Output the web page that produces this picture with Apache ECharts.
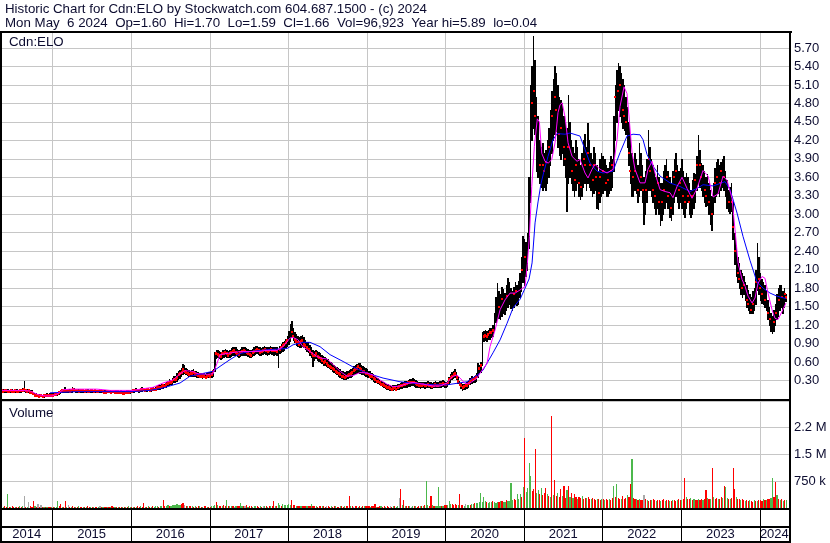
<!DOCTYPE html>
<html>
<head>
<meta charset="utf-8">
<title>Cdn:ELO Historic Chart</title>
<script src="https://cdn.jsdelivr.net/npm/echarts@6/dist/echarts.min.js"></script>
<style>
html,body{margin:0;padding:0;background:#ffffff;overflow:hidden;}
#chart{width:830px;height:543px;}
</style>
</head>
<body>
<div id="chart"></div>
<script>
// ---------- texts ----------
const titleLine1 = 'Historic Chart for Cdn:ELO by Stockwatch.com 604.687.1500 - (c) 2024';
const titleLine2 = 'Mon May  6 2024  Op=1.60  Hi=1.70  Lo=1.59  Cl=1.66  Vol=96,923  Year hi=5.89  lo=0.04';
const priceLabel = 'Cdn:ELO';
const volumeLabel = 'Volume';

// ---------- axes ----------
const yearLabels = ['2014','2015','2016','2017','2018','2019','2020','2021','2022','2023','2024'];
const yearStarts = [2015,2016,2017,2018,2019,2020,2021,2022,2023,2024];
const timeMin = 2014.347, timeMax = 2024.373;
const dataFirst = 2014.347, dataLast = 2024.346;
const priceMax = 5.96, priceStep = 0.30;
const volMax = 2970, volStep = 750; // thousands of shares

// ---------- weekly price data [low, high, close] ----------
const px2014 = [[.12,.17,.14],[.12,.16,.13],[.11,.16,.14],[.12,.17,.15],[.12,.16,.13],[.11,.15,.13],[.12,.16,.14],[.12,.17,.13],[.11,.15,.13],[.12,.16,.14],
[.12,.16,.13],[.11,.15,.13],[.12,.16,.14],[.12,.17,.15],[.13,.18,.15],[.13,.30,.16],[.12,.17,.14],[.12,.16,.13],[.12,.16,.14],[.11,.15,.12],
[.09,.14,.11],[.08,.12,.09],[.06,.10,.07],[.05,.09,.06],[.05,.08,.06],[.04,.08,.05],[.05,.08,.06],[.04,.07,.05],[.04,.08,.06],[.05,.08,.06],
[.05,.09,.06],[.05,.08,.06],[.05,.09,.07],[.06,.09,.07]];
const px2015 = [[.05,.09,.07],[.06,.10,.08],[.06,.10,.08],[.07,.11,.09],[.08,.13,.11],[.10,.15,.13],[.11,.16,.14],[.12,.17,.15],[.12,.19,.15],[.12,.17,.14],
[.12,.16,.14],[.11,.16,.13],[.12,.17,.15],[.12,.19,.16],[.13,.18,.15],[.12,.17,.14],[.12,.16,.14],[.11,.16,.13],[.12,.16,.14],[.12,.17,.15],
[.12,.16,.14],[.11,.15,.13],[.12,.16,.14],[.12,.16,.13],[.11,.15,.13],[.12,.16,.14],[.12,.16,.14],[.11,.15,.13],[.12,.16,.14],[.12,.15,.13],
[.11,.15,.13],[.12,.16,.14],[.12,.16,.14],[.11,.15,.13],[.11,.15,.12],[.10,.14,.12],[.11,.15,.13],[.11,.15,.13],[.10,.14,.12],[.11,.15,.13],
[.11,.15,.13],[.10,.14,.12],[.10,.14,.11],[.09,.14,.11],[.09,.13,.11],[.10,.14,.12],[.09,.13,.10],[.08,.13,.10],[.09,.13,.11],[.09,.14,.12],
[.10,.14,.12],[.10,.15,.13]];
const px2016 = [[.11,.15,.13],[.12,.16,.14],[.12,.17,.15],[.13,.18,.15],[.13,.17,.15],[.12,.17,.14],[.13,.18,.16],[.13,.19,.16],[.14,.18,.16],[.13,.17,.15],
[.13,.18,.16],[.14,.18,.16],[.13,.17,.15],[.13,.18,.16],[.14,.19,.17],[.14,.18,.16],[.15,.20,.17],[.16,.22,.19],[.17,.23,.20],[.17,.22,.19],
[.18,.24,.21],[.18,.25,.22],[.19,.24,.21],[.20,.27,.24],[.22,.30,.26],[.23,.32,.28],[.24,.31,.27],[.25,.34,.30],[.27,.37,.32],[.28,.38,.33],
[.30,.42,.36],[.32,.45,.40],[.34,.47,.42],[.38,.50,.44],[.40,.57,.48],[.42,.56,.46],[.40,.50,.44],[.39,.48,.42],[.38,.47,.41],[.37,.46,.42],
[.38,.47,.43],[.38,.48,.44],[.37,.46,.41],[.36,.45,.40],[.36,.44,.39],[.35,.43,.38],[.35,.42,.37],[.34,.41,.37],[.35,.42,.38],[.34,.41,.36],
[.35,.43,.38],[.36,.44,.39]];
const px2017 = [[.35,.44,.38],[.36,.45,.40],[.37,.48,.45],[.45,.77,.70],[.66,.80,.74],[.68,.79,.73],[.66,.78,.71],[.65,.76,.70],[.67,.79,.74],[.68,.80,.75],
[.70,.82,.76],[.69,.80,.74],[.68,.78,.72],[.69,.80,.75],[.70,.83,.77],[.71,.84,.78],[.72,.85,.79],[.72,.84,.77],[.70,.81,.74],[.69,.80,.73],
[.70,.82,.76],[.71,.84,.78],[.72,.85,.79],[.72,.84,.78],[.71,.83,.76],[.70,.82,.75],[.69,.80,.73],[.68,.79,.72],[.70,.82,.76],[.72,.84,.78],
[.73,.86,.80],[.74,.86,.81],[.73,.85,.79],[.72,.84,.77],[.72,.83,.78],[.73,.85,.80],[.74,.86,.81],[.73,.85,.79],[.72,.84,.78],[.73,.85,.80],
[.74,.86,.81],[.73,.85,.80],[.72,.84,.79],[.73,.85,.80],[.72,.84,.78],[.52,.82,.76],[.74,.86,.82],[.76,.90,.85],[.78,.92,.88],[.80,.95,.90],
[.84,.98,.93],[.86,1.02,.96]];
const px2018 = [[.90,1.10,1.02],[.95,1.22,1.10],[1.00,1.27,1.08],[.96,1.15,1.02],[.92,1.08,.98],[.88,1.05,.95],[.86,1.02,.92],[.85,1.00,.90],[.84,1.02,.94],[.86,1.04,.96],
[.84,1.00,.90],[.82,.96,.88],[.78,.93,.84],[.76,.92,.82],[.72,.88,.78],[.68,.84,.74],[.54,.80,.70],[.64,.78,.72],[.66,.80,.74],[.64,.78,.70],
[.62,.76,.68],[.60,.74,.66],[.58,.72,.64],[.55,.70,.60],[.56,.68,.62],[.54,.66,.58],[.52,.65,.56],[.50,.62,.54],[.48,.60,.52],[.46,.58,.50],
[.44,.56,.48],[.42,.54,.46],[.40,.52,.44],[.38,.50,.42],[.36,.48,.40],[.34,.46,.38],[.33,.45,.37],[.32,.44,.36],[.33,.45,.38],[.34,.46,.39],
[.35,.47,.40],[.36,.48,.42],[.38,.50,.44],[.40,.53,.47],[.42,.55,.49],[.43,.57,.51],[.44,.59,.53],[.43,.58,.50],[.41,.55,.48],[.40,.53,.46],
[.39,.52,.45],[.38,.50,.43]];
const px2019 = [[.36,.48,.42],[.35,.46,.40],[.34,.45,.38],[.32,.43,.37],[.30,.40,.34],[.28,.38,.32],[.27,.36,.30],[.26,.34,.29],[.24,.32,.27],[.22,.30,.25],
[.21,.29,.24],[.20,.28,.22],[.18,.26,.21],[.17,.25,.20],[.16,.24,.19],[.15,.22,.18],[.15,.21,.17],[.15,.22,.18],[.16,.23,.19],[.15,.22,.17],
[.16,.24,.20],[.17,.25,.21],[.18,.26,.22],[.18,.27,.23],[.19,.28,.24],[.20,.29,.25],[.20,.30,.26],[.21,.31,.27],[.21,.32,.27],[.22,.33,.28],
[.22,.34,.28],[.21,.33,.27],[.20,.31,.26],[.19,.29,.24],[.19,.28,.23],[.18,.27,.22],[.19,.28,.23],[.19,.28,.24],[.18,.27,.22],[.19,.28,.23],
[.20,.29,.25],[.19,.28,.23],[.18,.27,.22],[.18,.26,.21],[.19,.28,.23],[.20,.29,.24],[.19,.28,.23],[.19,.27,.23],[.20,.29,.24],[.20,.30,.25],
[.21,.31,.26],[.20,.30,.25]];
const px2020 = [[.20,.28,.24],[.21,.30,.26],[.24,.36,.32],[.28,.40,.36],[.32,.44,.38],[.34,.46,.40],[.36,.48,.42],[.32,.44,.36],[.26,.36,.30],[.22,.30,.25],
[.18,.26,.22],[.15,.24,.20],[.16,.25,.21],[.17,.26,.22],[.18,.27,.23],[.20,.30,.26],[.24,.34,.30],[.26,.37,.32],[.27,.36,.33],[.28,.38,.34],
[.30,.42,.38],[.36,.59,.48],[.42,.56,.50],[.44,.60,.55],[.55,1.08,1.00],[.94,1.10,1.02],[.96,1.12,1.04],[.95,1.10,1.02],[.97,1.12,1.05],[.98,1.15,1.08],
[1.00,1.15,1.08],[1.02,1.20,1.12],[1.10,1.40,1.30],[1.25,1.65,1.45],[1.30,1.88,1.55],[1.32,1.75,1.50],[1.30,1.70,1.55],[1.35,1.82,1.62],[1.40,1.78,1.55],[1.38,1.72,1.52],
[1.45,1.85,1.68],[1.50,1.97,1.75],[1.55,1.90,1.72],[1.48,1.80,1.62],[1.45,1.75,1.60],[1.50,1.82,1.70],[1.55,1.90,1.75],[1.52,1.85,1.68],[1.55,1.92,1.80],[1.65,2.05,1.92],
[1.75,2.30,2.10],[1.90,2.64,2.40]];
const px2021 = [[1.85,2.60,2.30],[2.00,2.55,2.20],[2.10,2.70,2.50],[2.45,3.60,3.30],[3.20,5.10,4.60],[4.20,5.40,4.80],[4.40,5.89,5.00],[4.30,5.50,4.60],[3.70,4.90,4.00],[3.60,4.60,3.90],
[3.50,4.20,3.80],[3.45,4.10,3.75],[3.40,4.15,3.80],[3.45,4.00,3.70],[3.40,4.05,3.85],[3.50,4.20,3.90],[3.60,4.40,4.10],[3.80,4.70,4.40],[4.00,5.00,4.60],[4.20,5.20,4.80],
[4.30,5.40,4.90],[4.35,5.30,4.70],[4.10,5.10,4.50],[3.96,4.90,4.30],[3.90,4.85,4.40],[4.00,4.80,4.30],[3.80,4.60,4.10],[3.60,4.50,3.90],[3.05,4.40,3.80],[3.50,4.93,4.10],
[3.60,4.50,3.90],[3.50,4.20,3.70],[3.40,4.10,3.60],[3.30,4.00,3.55],[3.40,4.20,3.80],[3.50,4.10,3.70],[3.30,3.90,3.50],[3.24,3.80,3.45],[3.30,4.00,3.70],[3.45,4.20,3.90],
[3.50,4.30,3.80],[3.40,4.10,3.70],[3.50,4.48,4.00],[3.45,4.20,3.80],[3.40,4.00,3.60],[3.30,3.90,3.55],[3.35,4.10,3.80],[3.40,4.00,3.60],[3.10,3.80,3.40],[3.08,3.70,3.35],
[3.20,3.90,3.60],[3.30,4.00,3.70]];
const px2022 = [[3.35,3.95,3.70],[3.40,3.90,3.60],[3.30,3.80,3.50],[3.29,3.75,3.55],[3.35,3.85,3.65],[3.40,3.94,3.70],[3.45,3.90,3.80],[3.70,4.60,4.40],[4.20,5.10,4.90],[4.50,5.35,5.20],
[4.70,5.46,5.00],[4.60,5.40,5.10],[4.50,5.30,4.90],[4.40,5.20,4.70],[4.37,5.10,4.60],[4.30,4.90,4.50],[4.10,4.75,4.30],[3.80,4.50,4.00],[3.50,4.30,3.70],[3.29,4.00,3.50],
[3.30,3.90,3.60],[3.40,4.00,3.70],[3.35,3.90,3.50],[3.20,3.80,3.40],[3.30,4.16,3.80],[3.40,4.00,3.60],[3.20,3.80,3.40],[2.84,3.60,3.10],[3.00,3.70,3.40],[3.20,3.90,3.60],
[3.40,4.37,3.90],[3.40,4.10,3.70],[3.30,3.90,3.50],[3.20,3.80,3.40],[3.10,3.70,3.30],[3.00,3.60,3.20],[3.10,3.80,3.50],[3.00,3.60,3.20],[2.82,3.50,3.10],[2.90,3.50,3.20],
[3.00,3.70,3.40],[3.10,3.80,3.50],[3.20,3.90,3.60],[3.10,3.70,3.30],[2.95,3.60,3.20],[2.90,3.50,3.10],[3.00,3.70,3.40],[3.20,3.90,3.60],[3.30,4.00,3.70],[3.20,3.80,3.50],
[3.10,3.70,3.40],[3.20,3.75,3.50]];
const px2023 = [[3.10,3.90,3.50],[3.00,3.70,3.30],[2.96,3.60,3.20],[3.10,3.67,3.40],[3.20,3.60,3.30],[3.00,3.50,3.20],[2.96,3.40,3.10],[3.00,3.55,3.30],[3.10,3.67,3.40],[3.20,3.65,3.55],
[3.40,3.95,3.80],[3.50,4.29,3.90],[3.45,4.05,3.80],[3.40,3.83,3.60],[3.30,3.80,3.50],[3.20,3.70,3.40],[3.13,3.60,3.30],[3.15,3.65,3.35],[3.00,3.50,3.20],[2.85,3.40,3.05],
[2.75,3.30,3.00],[3.00,3.50,3.30],[3.20,3.75,3.50],[3.30,3.85,3.60],[3.35,3.90,3.70],[3.30,3.80,3.50],[3.40,3.85,3.70],[3.45,3.90,3.75],[3.40,3.94,3.60],[3.30,3.70,3.45],
[3.10,3.56,3.30],[3.05,3.40,3.20],[3.02,3.45,3.25],[3.05,3.50,3.20],[2.60,3.20,2.80],[2.20,2.69,2.40],[1.99,2.50,2.20],[1.90,2.30,2.05],[1.80,2.21,1.95],[1.70,2.10,1.85],
[1.66,2.05,1.80],[1.70,2.00,1.85],[1.60,1.90,1.70],[1.50,1.85,1.60],[1.45,1.77,1.55],[1.40,1.70,1.50],[1.39,1.65,1.45],[1.40,1.75,1.55],[1.45,1.80,1.60],[1.55,2.10,1.90],
[1.77,2.53,2.10],[1.70,2.30,1.95]];
const px2024 = [[1.60,2.04,1.80],[1.56,1.95,1.70],[1.55,1.90,1.65],[1.50,1.85,1.60],[1.45,1.75,1.55],[1.30,1.60,1.40],[1.20,1.50,1.30],[1.10,1.40,1.20],[1.07,1.35,1.15],[1.10,1.45,1.25],
[1.20,1.55,1.40],[1.30,1.70,1.55],[1.34,1.80,1.60],[1.45,1.85,1.70],[1.50,1.85,1.65],[1.40,1.75,1.55],[1.50,1.80,1.70],[1.59,1.70,1.66]];

// ---------- weekly volume (thousands) ----------
const vol2014 = [40,30,50,25,375,35,30,45,20,40,30,25,50,35,60,345,40,30,180,45,35,200,60,40,100,30,90,25,30,20,35,25,30,40];
const vol2015 = [30,40,25,200,50,120,35,30,200,40,90,30,25,45,35,20,30,50,25,40,30,20,35,45,25,30,40,20,35,30,25,45,30,20,40,25,30,35,20,45,30,25,40,30,20,35,30,40,25,30,45,35];
const vol2016 = [30,40,35,25,45,30,50,40,150,35,30,45,40,25,50,35,45,60,40,55,50,210,65,45,70,60,55,80,90,75,100,85,95,110,130,70,60,50,65,45,55,40,50,35,45,55,40,30,50,45,35,40];
const vol2017 = [40,50,60,90,180,80,60,50,45,70,55,230,60,50,45,55,40,65,50,45,150,60,45,50,80,40,55,45,35,50,60,45,40,55,35,50,45,60,40,55,50,45,200,60,55,140,70,60,110,75,80,90];
const vol2018 = [120,90,210,80,70,60,55,65,50,45,60,55,50,45,60,110,55,50,45,40,55,50,45,60,40,50,45,35,50,40,45,55,40,35,50,45,40,55,45,60,320,50,45,40,55,45,35,50,40,45,55,60];
const vol2019 = [50,45,40,55,45,110,40,35,50,45,40,55,35,45,40,50,35,45,55,40,60,290,540,70,230,60,45,55,50,40,60,45,55,40,50,65,45,55,70,760,80,60,320,70,55,60,50,570,65,55,60,70];
const vol2020 = [80,90,200,110,100,80,120,90,70,400,90,80,60,100,70,80,90,110,100,130,150,140,170,420,180,300,200,160,150,180,170,190,160,150,180,170,190,200,180,170,230,190,200,690,220,250,230,400,260,380,300,585];
const vol2021 = [1930,450,560,1240,885,480,530,1640,420,500,380,560,350,430,560,380,320,300,2560,350,780,330,420,300,530,320,600,290,500,600,310,420,280,400,300,260,310,280,330,250,290,270,300,260,240,280,250,220,260,240,230,250];
const vol2022 = [240,220,260,230,250,210,280,600,300,660,280,260,250,320,240,270,350,300,680,1350,280,260,240,220,250,230,210,350,240,220,200,230,210,250,220,200,230,210,190,220,240,200,210,230,200,190,220,210,200,230,250,220];
const vol2023 = [220,250,835,300,260,240,280,220,250,230,210,240,220,260,230,250,490,280,260,240,1100,300,260,280,240,260,300,280,600,570,290,260,240,270,1100,530,300,260,240,220,250,230,200,220,190,210,200,180,220,200,190,210];
const vol2024 = [220,200,250,230,210,240,260,280,835,300,720,350,240,220,260,200,230,210];

// ---------- weekly direction: r = down, g = up, n = unchanged ----------
const dir2014 = 'rgrrgrgrrgrrgrgnrgnrrrgrnrnrgrgrrg';
const dir2015 = 'rgggrrgrrg' + 'nrgrrgrgrr' + 'grgrrgrgrr' + 'gnrgrrgrgr' + 'rgrgrrgrgr' + 'gg';
const dir2016 = 'rgrgrrgrrg' + 'rgrgrgggrg' + 'grrggrgggg' + 'gggrrnrgrr' + 'grgrrgrgrr' + 'gr';
const dir2017 = 'rgggrgrrgr' + 'rgrggrngrr' + 'ggrnrgrrgg' + 'grrgrngrgr' + 'grrgrggrgg' + 'gg';
const dir2018 = 'ggrrrgrrgr' + 'rrgrrgrrgr' + 'rrgrrnrrgr' + 'rgrrgrrgrr' + 'rgrnrrgrgr' + 'gr';
const dir2019 = 'rrgrrrgrrg' + 'rrgrrnrgrg' + 'gnrgrgrrgn' + 'grgrrgrgrg' + 'grrgrggggr' + 'gr';
const dir2020 = 'rgggrrrrgr' + 'rrgnggrggr' + 'gggggggrgg' + 'grgggrgrgg' + 'rggggrrggg' + 'rg';
const dir2021 = 'rggggrrrgg' + 'rgrrrgrgrg' + 'rrgrrgrrgr' + 'grgrrgrrgr' + 'rgrrgrrrgr' + 'rg';
const dir2022 = 'rgrrgrrgrg' + 'rrgrrrgrrg' + 'rrgrgrrnrg' + 'rrgrrgrrgr' + 'rgrrgrgrrg' + 'rr';
const dir2023 = 'grrgrrgrgr' + 'rgrrgrrgrg' + 'rgrrgrrgrg' + 'grgrrrgrrg' + 'rrgrrgrrgr' + 'gr';
const dir2024 = 'rrgrgrrggrrgrgrgrg';

// ---------- moving averages [decimal year, price] ----------
const fastMA = [[2014.360,.14],[2014.589,.14],[2014.717,.13],[2014.818,.07],[2014.908,.05],[2014.997,.05],[2015.060,.08],[2015.137,.15],[2015.226,.16],[2015.569,.16],[2015.735,.14],[2016.027,.14],[2016.116,.16],[2016.282,.19],[2016.409,.26],[2016.536,.31],[2016.625,.41],[2016.689,.46],[2016.778,.45],[2016.854,.41],[2016.969,.40],[2017.045,.41],[2017.096,.58],[2017.134,.72],[2017.223,.74],[2017.389,.77],[2017.605,.77],[2017.732,.79],[2017.859,.79],[2017.936,.85],[2018.025,.99],[2018.063,1.00],[2018.127,.96],[2018.190,.85],[2018.279,.77],[2018.368,.69],[2018.432,.66],[2018.495,.65],[2018.572,.56],[2018.661,.45],[2018.750,.37],[2018.826,.38],[2018.915,.43],[2019.004,.42],[2019.081,.39],[2019.170,.31],[2019.259,.24],[2019.335,.20],[2019.424,.21],[2019.513,.25],[2019.589,.27],[2019.679,.25],[2019.768,.23],[2019.844,.21],[2019.933,.21],[2020.022,.26],[2020.086,.36],[2020.149,.39],[2020.188,.34],[2020.251,.25],[2020.315,.26],[2020.404,.34],[2020.442,.42],[2020.531,.58],[2020.569,.85],[2020.633,1.12],[2020.697,1.45],[2020.760,1.61],[2020.824,1.72],[2020.888,1.72],[2020.951,1.77],[2021.015,1.83],[2021.044,2.20],[2021.070,2.64],[2021.100,3.45],[2021.133,4.10],[2021.171,4.55],[2021.197,4.50],[2021.227,3.99],[2021.269,3.86],[2021.311,3.83],[2021.354,3.89],[2021.396,4.16],[2021.434,4.65],[2021.460,4.78],[2021.486,4.81],[2021.524,4.58],[2021.562,4.16],[2021.613,3.94],[2021.676,3.86],[2021.714,3.89],[2021.778,3.67],[2021.816,3.59],[2021.867,3.73],[2021.905,3.81],[2021.969,3.73],[2022.058,3.67],[2022.134,3.73],[2022.185,4.21],[2022.223,4.75],[2022.274,5.07],[2022.312,4.96],[2022.338,4.58],[2022.376,4.00],[2022.414,3.73],[2022.478,3.51],[2022.541,3.51],[2022.579,3.73],[2022.630,3.86],[2022.668,3.67],[2022.732,3.40],[2022.796,3.37],[2022.859,3.35],[2022.897,3.27],[2022.948,3.45],[2023.012,3.60],[2023.076,3.42],[2023.139,3.26],[2023.203,3.42],[2023.279,3.71],[2023.343,3.62],[2023.407,3.28],[2023.470,3.33],[2023.534,3.62],[2023.585,3.55],[2023.648,3.26],[2023.686,2.75],[2023.725,2.21],[2023.776,1.94],[2023.814,1.83],[2023.852,1.67],[2023.903,1.56],[2023.941,1.64],[2023.979,1.88],[2024.030,1.99],[2024.068,1.96],[2024.106,1.72],[2024.157,1.45],[2024.195,1.31],[2024.233,1.29],[2024.284,1.42],[2024.335,1.56]];
const slowMA = [[2014.971,.10],[2015.315,.12],[2016.027,.12],[2016.243,.14],[2016.409,.18],[2016.625,.26],[2016.752,.37],[2017.045,.45],[2017.134,.53],[2017.261,.64],[2017.389,.74],[2017.516,.77],[2017.732,.80],[2017.986,.82],[2018.063,.88],[2018.190,.92],[2018.279,.92],[2018.406,.85],[2018.534,.72],[2018.699,.61],[2018.826,.52],[2019.004,.42],[2019.208,.34],[2019.424,.28],[2019.640,.25],[2019.844,.23],[2020.022,.23],[2020.277,.28],[2020.442,.42],[2020.480,.47],[2020.607,.75],[2020.697,.96],[2020.786,1.23],[2020.862,1.48],[2020.951,1.62],[2021.015,1.80],[2021.066,1.95],[2021.104,2.21],[2021.142,2.86],[2021.180,3.20],[2021.218,3.50],[2021.256,3.70],[2021.307,3.94],[2021.371,4.21],[2021.422,4.31],[2021.524,4.30],[2021.587,4.32],[2021.714,4.27],[2021.778,4.05],[2021.842,3.83],[2021.931,3.70],[2022.007,3.67],[2022.134,3.70],[2022.223,4.00],[2022.312,4.27],[2022.389,4.30],[2022.478,4.29],[2022.516,4.21],[2022.567,3.97],[2022.643,3.78],[2022.732,3.62],[2022.859,3.51],[2022.987,3.45],[2023.114,3.37],[2023.203,3.42],[2023.279,3.48],[2023.407,3.46],[2023.496,3.50],[2023.559,3.53],[2023.623,3.40],[2023.712,3.02],[2023.788,2.64],[2023.877,2.25],[2023.966,1.90],[2024.043,1.80],[2024.132,1.72],[2024.221,1.67],[2024.335,1.63]];

// ---------- build weekly records ----------
const yearNums = yearLabels.map(Number);
const pxByYear = [px2014,px2015,px2016,px2017,px2018,px2019,px2020,px2021,px2022,px2023,px2024];
const volByYear = [vol2014,vol2015,vol2016,vol2017,vol2018,vol2019,vol2020,vol2021,vol2022,vol2023,vol2024];
const dirByYear = [dir2014,dir2015,dir2016,dir2017,dir2018,dir2019,dir2020,dir2021,dir2022,dir2023,dir2024];
const DIRIDX = {r:0, g:1, n:2};
const NARROW = 0.2; // weeks with a small range show their close tick, as the dense red band of the original
const bars = [], ticks = [], vols = [];
yearNums.forEach((y, i) => {
  const p = pxByYear[i], v = volByYear[i], d = dirByYear[i];
  const s = Math.max(y, dataFirst), e = Math.min(y + 1, dataLast);
  const n = p.length, dt = (e - s) / n;
  for (let k = 0; k < n; k++) {
    const t = s + (k + 0.5) * dt;
    const di = DIRIDX[d.charAt(k)] !== undefined ? DIRIDX[d.charAt(k)] : 2;
    const narrow = (p[k][1] - p[k][0]) < NARROW;
    bars.push([t, p[k][0], p[k][1], dt]);
    if (di === 0 || narrow) ticks.push([t, p[k][2], narrow ? 1 : 0]);
    vols.push([t, v[k] !== undefined ? v[k] : 0, di, dt]);
  }
});

// ---------- styling ----------
const FONT = "'Liberation Sans', Arial, sans-serif";
const TXT = '#0c0c30';
const GRIDC = '#c6c6c6';
const VOLC = ['#ff0000', '#4cb84c', '#a8a8a8'];
const LAY = {left: 1, right: 789, top: 32, pBot: 399, vTop: 401, vBot: 508, rowMid: 527, bot: 542};

function snapRect(cx, w, y1, y2) {
  const x1 = Math.round(cx - w / 2), x2 = Math.round(cx + w / 2);
  const top = Math.round(Math.min(y1, y2)), bottom = Math.round(Math.max(y1, y2));
  return {x: x1, y: top, width: Math.max(1, x2 - x1), height: Math.max(1, bottom - top)};
}
function renderBar(params, api) {
  const t = api.value(0), lo = api.value(1), hi = api.value(2), dt = api.value(3);
  const a = api.coord([t, hi]), b = api.coord([t, lo]);
  const w = api.size([dt, 0])[0];
  return {type: 'rect', shape: snapRect(a[0], w, a[1], b[1] + 1), style: {fill: '#000000'}};
}
function renderTick(params, api) {
  const c = api.coord([api.value(0), api.value(1)]);
  const h = api.value(2) ? 3 : 2;
  return {type: 'rect', shape: {x: Math.round(c[0]) - 1, y: Math.round(c[1]) - 1, width: 2, height: h}, style: {fill: '#ff0000'}};
}
function renderVol(params, api) {
  const t = api.value(0), v = api.value(1), di = api.value(2), dt = api.value(3);
  const a = api.coord([t, v]), b = api.coord([t, 0]);
  const w = api.size([dt, 0])[0] * 0.75;
  return {type: 'rect', shape: snapRect(a[0], w, a[1], b[1]), style: {fill: VOLC[di]}};
}
function vLines(color) {
  return function (params, api) {
    const x = Math.round(api.coord([api.value(0), 0])[0]) + 0.5;
    const cs = params.coordSys;
    return {type: 'line', shape: {x1: x, y1: cs.y, x2: x, y2: cs.y + cs.height}, style: {stroke: color, lineWidth: 1}};
  };
}
function renderYear(params, api) {
  const y = api.value(0);
  const s = Math.max(y, timeMin), e = Math.min(y + 1, timeMax);
  const c = api.coord([(s + e) / 2, 0.5]);
  return {type: 'text', x: c[0], y: c[1],
    style: {text: yearLabels[params.dataIndex], fill: TXT, font: '13px ' + FONT, align: 'center', verticalAlign: 'middle'}};
}

const xAx = g => ({type: 'value', gridIndex: g, min: timeMin, max: timeMax, show: false});
const hiddenY = g => ({type: 'value', gridIndex: g, min: 0, max: 1, show: false});
const yearStartData = yearStarts.map(y => [y, 0]);

const frame = [
  [0, LAY.top, 792, LAY.top], [LAY.left, LAY.top - 1, LAY.left, 543], [LAY.right + 1, LAY.top - 1, LAY.right + 1, 543],
  [0, LAY.pBot + 1, LAY.right + 1, LAY.pBot + 1], [0, LAY.vBot + 1, LAY.right + 1, LAY.vBot + 1],
  [0, LAY.rowMid, LAY.right + 1, LAY.rowMid], [0, LAY.bot, LAY.right + 1, LAY.bot]
].map(l => ({type: 'line', z: 100, silent: true, shape: {x1: l[0], y1: l[1], x2: l[2], y2: l[3]}, style: {stroke: '#000000', lineWidth: 2}}));

const titleStyle = {fontSize: 13.3, fontWeight: 'normal', color: TXT, fontFamily: FONT, lineHeight: 14};
const option = {
  animation: false,
  backgroundColor: '#ffffff',
  textStyle: {fontFamily: FONT},
  title: [
    {text: titleLine1, left: 5, top: 2, padding: 0, textStyle: titleStyle},
    {text: titleLine2, left: 5, top: 16, padding: 0, textStyle: titleStyle},
    {text: priceLabel, left: 9, top: 35, padding: 0, textStyle: titleStyle},
    {text: volumeLabel, left: 9, top: 406, padding: 0, textStyle: titleStyle}
  ],
  grid: [
    {left: LAY.left, top: LAY.top, width: LAY.right - LAY.left, height: LAY.pBot - LAY.top, show: false},
    {left: LAY.left, top: LAY.vTop, width: LAY.right - LAY.left, height: LAY.vBot - LAY.vTop, show: false},
    {left: LAY.left, top: LAY.vBot + 1, width: LAY.right - LAY.left, height: LAY.rowMid - LAY.vBot - 1, show: false},
    {left: LAY.left, top: LAY.rowMid, width: LAY.right - LAY.left, height: LAY.bot - LAY.rowMid, show: false}
  ],
  xAxis: [xAx(0), xAx(1), xAx(2), xAx(3)],
  yAxis: [
    {type: 'value', gridIndex: 0, position: 'right', min: 0, max: priceMax, interval: priceStep,
      axisLine: {show: false}, axisTick: {show: false},
      axisLabel: {showMinLabel: false, showMaxLabel: false, margin: 5, color: TXT, fontSize: 13, fontFamily: FONT,
        formatter: v => v.toFixed(2)},
      splitLine: {show: true, lineStyle: {color: GRIDC, width: 1}}},
    {type: 'value', gridIndex: 1, position: 'right', min: 0, max: volMax, interval: volStep,
      axisLine: {show: false}, axisTick: {show: false},
      axisLabel: {showMinLabel: false, showMaxLabel: false, margin: 5, color: TXT, fontSize: 13, fontFamily: FONT,
        formatter: v => v >= 1000 ? (Math.floor(v / 100) / 10).toFixed(1) + ' M' : Math.round(v) + ' k'},
      splitLine: {show: true, lineStyle: {color: GRIDC, width: 1}}},
    hiddenY(2), hiddenY(3)
  ],
  graphic: frame,
  series: [
    {type: 'custom', xAxisIndex: 0, yAxisIndex: 0, z: 1, silent: true, renderItem: vLines(GRIDC), data: yearStartData, encode: {x: 0, y: 1}},
    {type: 'custom', xAxisIndex: 1, yAxisIndex: 1, z: 1, silent: true, renderItem: vLines(GRIDC), data: yearStartData, encode: {x: 0, y: 1}},
    {type: 'custom', xAxisIndex: 2, yAxisIndex: 2, z: 1, silent: true, renderItem: vLines('#000000'), data: yearStartData, encode: {x: 0, y: 1}},
    {type: 'custom', xAxisIndex: 3, yAxisIndex: 3, z: 1, silent: true, renderItem: vLines('#000000'), data: yearStartData, encode: {x: 0, y: 1}},
    {type: 'custom', xAxisIndex: 3, yAxisIndex: 3, z: 2, silent: true, renderItem: renderYear, data: yearNums.map(y => [y, 0.5]), encode: {x: 0, y: 1}},
    {type: 'custom', name: 'Range', xAxisIndex: 0, yAxisIndex: 0, z: 2, silent: true, clip: true, renderItem: renderBar, data: bars, encode: {x: 0, y: [1, 2]}},
    {type: 'custom', name: 'Close', xAxisIndex: 0, yAxisIndex: 0, z: 3, silent: true, clip: true, renderItem: renderTick, data: ticks, encode: {x: 0, y: 1}},
    {type: 'line', name: 'Slow MA', xAxisIndex: 0, yAxisIndex: 0, z: 4, data: slowMA, showSymbol: false, symbol: 'none', silent: true,
      lineStyle: {color: '#0000ff', width: 1}},
    {type: 'line', name: 'Fast MA', xAxisIndex: 0, yAxisIndex: 0, z: 5, data: fastMA, showSymbol: false, symbol: 'none', silent: true,
      lineStyle: {color: '#ff00ff', width: 1}},
    {type: 'custom', name: 'Volume', xAxisIndex: 1, yAxisIndex: 1, z: 2, silent: true, clip: true, renderItem: renderVol, data: vols, encode: {x: 0, y: 1}}
  ]
};

const chart = echarts.init(document.getElementById('chart'), null, {renderer: 'canvas'});
chart.setOption(option);
</script>
</body>
</html>
